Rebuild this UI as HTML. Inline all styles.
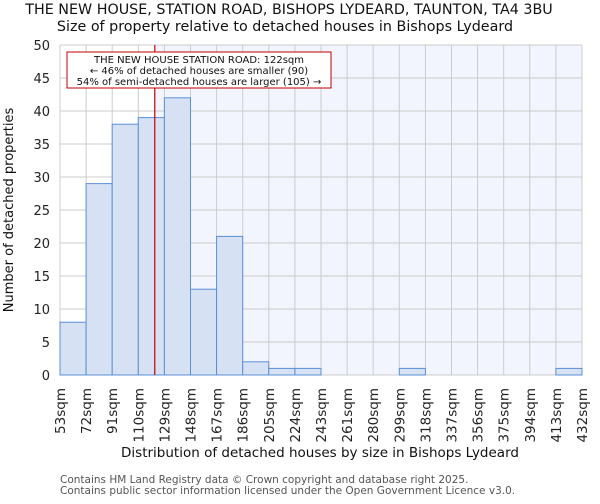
<!DOCTYPE html>
<html><head><meta charset="utf-8"><style>
body{margin:0;background:#fff;font-family:"DejaVu Sans","Liberation Sans",sans-serif}
svg text{font-family:"DejaVu Sans","Liberation Sans",sans-serif}
</style></head><body>
<svg id="chart" width="600" height="500" xmlns="http://www.w3.org/2000/svg">
<text x="289" y="14" font-size="14.3" text-anchor="middle" fill="#111">THE NEW HOUSE, STATION ROAD, BISHOPS LYDEARD, TAUNTON, TA4 3BU</text>
<text x="285" y="31" font-size="14.3" text-anchor="middle" fill="#111">Size of property relative to detached houses in Bishops Lydeard</text>
<g id="plot"></g>
<text x="320" y="457" font-size="13.5" text-anchor="middle" fill="#111">Distribution of detached houses by size in Bishops Lydeard</text>
<text transform="translate(13,210) rotate(-90)" font-size="13" text-anchor="middle" fill="#111">Number of detached properties</text>
<text x="60" y="483" font-size="10.5" fill="#555">Contains HM Land Registry data © Crown copyright and database right 2025.</text>
<text x="60" y="494" font-size="10.5" fill="#555">Contains public sector information licensed under the Open Government Licence v3.0.</text>
</svg>
<script>
const binLabels=["53sqm","72sqm","91sqm","110sqm","129sqm","148sqm","167sqm","186sqm","205sqm","224sqm","243sqm","261sqm","280sqm","299sqm","318sqm","337sqm","356sqm","375sqm","394sqm","413sqm","432sqm"];
const binEdges=[53,72,91,110,129,148,167,186,205,224,243,261,280,299,318,337,356,375,394,413,432];
const counts=[8,29,38,39,42,13,21,2,1,1,0,0,0,1,0,0,0,0,0,1];
const yTicks=[0,5,10,15,20,25,30,35,40,45,50];
const markerValue=122;
const ns="http://www.w3.org/2000/svg";
const L=60,R=582,T=45,B=375,yMax=50;
const nb=counts.length;
function xIdx(i){return L+(R-L)*i/nb;}
function xVal(v){let i=0;while(i<nb-1&&v>binEdges[i+1])i++;return xIdx(i)+(v-binEdges[i])/(binEdges[i+1]-binEdges[i])*(R-L)/nb;}
function y(v){return B-(B-T)*v/yMax;}
const g=document.getElementById('plot');
function mk(t,a){const e=document.createElementNS(ns,t);for(const k in a)e.setAttribute(k,a[k]);g.appendChild(e);return e;}
const mx=xVal(markerValue);
let e=mk('rect',{x:L,y:T,width:R-L,height:B-T,fill:'#fff'});


e=mk('rect',{x:mx,y:T,width:R-mx,height:B-T,fill:'#f2f5fd'});


yTicks.forEach(t=>{
 e=mk('line',{x1:L,x2:R,y1:y(t),y2:y(t),stroke:'#cccccc','stroke-width':1});
 
 
 e=mk('text',{x:L-10,y:y(t)+5,'font-size':13,'text-anchor':'end',fill:'#222'});
 e.textContent=t;
 
 
});
binLabels.forEach((lb,i)=>{
 const x=xIdx(i);
 e=mk('line',{x1:x,x2:x,y1:T,y2:B,stroke:'#cccccc','stroke-width':1});
 
 
 e=mk('text',{transform:`translate(${x+5},${B+13}) rotate(-90)`,'font-size':13.5,'text-anchor':'end',fill:'#222'});
 e.textContent=lb;
 
 
});
counts.forEach((c,i)=>{
 if(c<=0)return;
 e=mk('rect',{x:xIdx(i),y:y(c),width:(R-L)/nb,height:B-y(c),fill:'#d6e2f4',stroke:'#5b8fd6','stroke-width':1});
 
 
});
e=mk('line',{x1:mx,x2:mx,y1:T,y2:B,stroke:'#c00000','stroke-width':1.2});


e=mk('rect',{x:67,y:52,width:264,height:36,fill:'#fff',stroke:'#c00000','stroke-width':1});


["THE NEW HOUSE STATION ROAD: 122sqm","← 46% of detached houses are smaller (90)","54% of semi-detached houses are larger (105) →"].forEach((s,k)=>{
 e=mk('text',{x:199,y:63+k*11,'font-size':10,'text-anchor':'middle',fill:'#111'});
 e.textContent=s;
 
 
});
</script>
</body></html>
